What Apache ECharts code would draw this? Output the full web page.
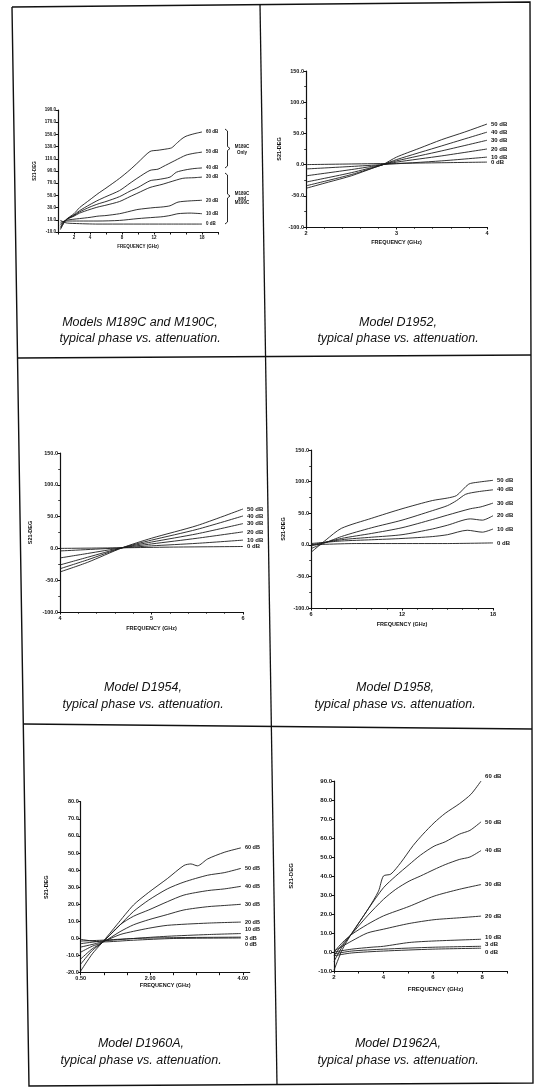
<!DOCTYPE html>
<html><head><meta charset="utf-8">
<script src="https://cdn.jsdelivr.net/npm/echarts@6/dist/echarts.min.js"></script>
<style>html,body{margin:0;padding:0;background:#fff}#c{width:536px;height:1088px}</style>
</head><body><div id="c"></div>
<script>
// ---------- DATA ----------
const curveNames6 = ['50 dB','40 dB','30 dB','20 dB','10 dB','0 dB'];
const curveNames7 = ['60 dB','50 dB','40 dB','30 dB','20 dB','10 dB','0 dB'];
const curveNames8 = ['60 dB','50 dB','40 dB','30 dB','20 dB','10 dB','3 dB','0 dB'];

// Models M189C and M190C (x: GHz, y: S21 phase deg)
const m189_xLabels = [2,4,8,12,18];
const m189_yLabels = [-10,10,30,50,70,90,110,130,150,170,190];
const m189_60 = [[0.3,-6],[1,10],[2,20],[2.7,30],[4,43],[5,53],[6,62],[7.7,78],[9,92],[10,104],[11.5,122],[12.5,124],[13.5,126],[14.2,128],[14.8,135],[15.5,143],[16,147],[17,151],[18,154]];
const m189_50 = [[0.3,-4],[1,10],[2,18],[2.7,25],[4,35],[5,42],[6,48],[7.7,58],[9,70],[10,79],[11.5,91],[12.5,93],[13.1,97],[14.6,107],[16,116],[17,119],[18,121]];
const m189_40 = [[0.3,-2],[1,10],[2,17],[2.7,23],[4,31],[5,36],[6,40],[7.7,48],[9,57],[10,63],[11.5,74],[12.5,76],[14,80],[14.8,88],[16,92],[17,94],[18,95]];
const m189_30 = [[0.3,1],[1,10],[2,16],[2.7,21],[4,27],[5,31],[6,34],[7.7,40],[9,48],[10,54],[11.5,63],[13,68],[14,72],[15.6,78],[17,79],[18,80]];
const m189_20 = [[0.3,3],[1,9],[2,11],[2.7,12],[4,14],[5,16],[6,17],[7.7,20],[9,24],[10,27],[12,30],[13,31],[14,33],[15,39],[16.5,41],[18,42]];
const m189_10 = [[0.3,6],[1,8],[2.7,8],[5,8],[7.7,9],[10,12],[12,14],[13,15],[14,17],[15,20],[16.5,21],[18,20]];
const m189_0  = [[0.3,9],[1,5],[2,4],[5,3],[10,3],[14,3],[18,3]];

// Model D1952
const d1952_50 = [[2,-38],[2.25,-28],[2.5,-18],[2.75,-5],[2.85,0],[3,12],[3.25,26],[3.5,40],[3.75,52],[4,65]];
const d1952_40 = [[2,-34],[2.5,-16],[2.85,0],[3,8],[3.5,30],[4,52]];
const d1952_30 = [[2,-28],[2.5,-13],[2.85,0],[3,6],[3.5,22],[4,39]];
const d1952_20 = [[2,-18],[2.5,-8],[2.85,0],[3,4],[3.5,14],[4,25]];
const d1952_10 = [[2,-7],[2.5,-3],[2.85,0],[3.5,6],[4,12]];
const d1952_0  = [[2,0],[2.5,1],[3,2],[3.5,3],[4,4]];

// Model D1954
const d1954_50 = [[4,-37],[4.3,-22],[4.68,1],[5,16],[5.5,36],[6,62]];
const d1954_40 = [[4,-32],[4.3,-18],[4.68,1],[5,13],[5.5,30],[6,51]];
const d1954_30 = [[4,-26],[4.3,-14],[4.68,1],[5,10],[5.5,23],[6,39]];
const d1954_20 = [[4,-15],[4.3,-8],[4.68,1],[5,7],[5.5,16],[6,26]];
const d1954_10 = [[4,-4],[4.68,1],[5,4],[5.5,8],[6,13]];
const d1954_0  = [[4,0],[4.7,1],[5.2,2],[6,3]];

// Model D1958
const d1958_50 = [[6,-12],[7,8],[8,26],[10,42],[12,57],[14,70],[15,74],[15.6,78],[16.4,96],[17,99],[18,102]];
const d1958_40 = [[6,-6],[8,13],[10,27],[12,39],[14,54],[15,62],[15.6,70],[16.2,80],[17,84],[18,87]];
const d1958_30 = [[6,-2],[8,10],[10,18],[12,27],[14,40],[15,47],[16.5,57],[17.2,60],[18,66]];
const d1958_20 = [[6,0],[8,8],[10,12],[12,16],[14,25],[15,31],[16.5,41],[17.3,39],[18,46]];
const d1958_10 = [[6,2],[8,6],[10,8],[12,10],[14,13],[15,16],[16.3,23],[17.3,20],[18,25]];
const d1958_0  = [[6,0],[9,2],[12,2],[15,2],[18,3]];

// Model D1960A
const d1960_xLabels = [0.5,2,4];
const d1960_xTicks = [0.5,1,1.5,2,2.5,3,3.5,4];
const d1960_60 = [[0.5,-19],[0.75,-9],[0.96,-2.5],[1.28,8],[1.64,19.6],[1.97,27],[2.37,35],[2.73,42.7],[2.88,43.6],[3.02,42.5],[3.24,46.5],[3.6,50.4],[3.96,53]];
const d1960_50 = [[0.5,-15],[0.75,-7],[0.96,-2.5],[1.28,6],[1.64,15.8],[1.97,22.5],[2.37,29],[2.73,33],[3.24,37],[3.6,38.5],[3.96,41]];
const d1960_40 = [[0.5,-12],[0.75,-6],[0.96,-2.5],[1.35,8],[1.64,13],[1.97,16.7],[2.37,21.5],[2.73,25.4],[3.24,28],[3.6,29],[3.96,30.5]];
const d1960_30 = [[0.5,-8],[0.75,-4.5],[0.96,-2.5],[1.35,4],[1.64,8],[1.97,11],[2.37,14],[2.73,16.7],[3.24,18.6],[3.6,19.3],[3.96,20]];
const d1960_20 = [[0.5,-5],[0.96,-2],[1.35,2.3],[1.64,4.2],[1.97,6],[2.37,7.7],[3.24,9],[3.96,9.6]];
const d1960_10 = [[0.5,-3],[0.96,-1.5],[1.64,0],[2.37,1.3],[3.24,2.3],[3.96,2.9]];
const d1960_3  = [[0.5,-1.5],[0.96,-1],[1.64,0],[2.5,0.5],[3.96,0.8]];
const d1960_0  = [[0.5,-0.5],[0.96,-2],[1.64,-1],[2.5,0],[3.96,0.3]];

// Model D1962A
const d1962_xLabels = [2,4,6,8];
const d1962_60 = [[2,-9.6],[2.34,1.4],[2.72,9.8],[3.35,22],[3.8,32],[4,40],[4.3,41],[4.7,47],[5.2,56],[5.6,62],[6.05,68],[6.5,73],[7.07,78],[7.54,83],[7.95,90]];
const d1962_50 = [[2,-5],[2.34,3],[2.72,9.8],[3.35,22],[4,33.8],[4.5,40],[5.04,46],[5.5,51],[6.05,55.7],[6.5,58],[7.07,62],[7.5,64],[7.95,68.5]];
const d1962_40 = [[2,-2],[2.34,4],[2.72,9.5],[3.35,19],[4,27.7],[4.5,33],[5.04,37.3],[5.5,40],[6.05,43.4],[6.5,46],[7.07,48.7],[7.5,50],[7.95,53.4]];
const d1962_30 = [[2,0],[2.34,5],[2.72,9.3],[3.35,14.5],[4,19],[5.04,24],[6.05,29.4],[7.07,33],[7.95,35.5]];
const d1962_20 = [[2,0.5],[2.72,5.8],[3.35,10],[4,12],[5.04,15],[6.05,17],[7.07,18],[7.95,18.9]];
const d1962_10 = [[2,0],[2.72,1.5],[3.5,2.5],[4,3],[5.04,5],[6.05,5.8],[7.95,6.7]];
const d1962_3  = [[2,-1],[2.72,0.5],[4,1.5],[6,2.5],[7.95,3]];
const d1962_0  = [[2,-2],[2.72,-0.5],[4,0.5],[6,1.5],[7.95,2]];

const captions = [
  ['Models M189C and M190C,', 'typical phase vs. attenuation.'],
  ['Model D1952,', 'typical phase vs. attenuation.'],
  ['Model D1954,', 'typical phase vs. attenuation.'],
  ['Model D1958,', 'typical phase vs. attenuation.'],
  ['Model D1960A,', 'typical phase vs. attenuation.'],
  ['Model D1962A,', 'typical phase vs. attenuation.']
];
const xTitle = 'FREQUENCY (GHz)';
const yTitle = 'S21-DEG';

// ---------- LAYOUT / STYLE ----------
const FONT = '"Liberation Sans", Arial, sans-serif';
const INK = '#111';
const panels = [
  { grid:{left:58,top:110,width:160,height:122},
    x:{min:0,max:20,interval:2,labels:m189_xLabels,fmt:v=>String(v)},
    y:{min:-10,max:190,labels:m189_yLabels,ticks:m189_yLabels},
    fs:4.5, yGap:21, xGap:12, lfs:4.5,
    names:curveNames7, data:[m189_60,m189_50,m189_40,m189_30,m189_20,m189_10,m189_0], offs:{} },
  { grid:{left:306,top:71,width:181,height:156},
    x:{min:2,max:4,interval:1,minor:5,fmt:v=>String(v)},
    y:{min:-100,max:150,interval:50,minor:2},
    fs:5.5, yGap:24, xGap:12, lfs:6,
    names:curveNames6, data:[d1952_50,d1952_40,d1952_30,d1952_20,d1952_10,d1952_0], offs:{} },
  { grid:{left:60,top:453,width:183,height:159},
    x:{min:4,max:6,interval:1,minor:5,fmt:v=>String(v)},
    y:{min:-100,max:150,interval:50,minor:2},
    fs:5.5, yGap:27, xGap:13, lfs:6,
    names:curveNames6, data:[d1954_50,d1954_40,d1954_30,d1954_20,d1954_10,d1954_0], offs:{} },
  { grid:{left:311,top:450,width:182,height:158},
    x:{min:6,max:18,interval:6,minor:6,fmt:v=>String(v)},
    y:{min:-100,max:150,interval:50,minor:2},
    fs:5.5, yGap:25, xGap:13, lfs:6,
    names:curveNames6, data:[d1958_50,d1958_40,d1958_30,d1958_20,d1958_10,d1958_0], offs:{} },
  { grid:{left:80.7,top:801.7,width:169,height:171},
    x:{min:0.5,max:4.15,labels:d1960_xLabels,ticks:d1960_xTicks,fmt:v=>v.toFixed(2)},
    y:{min:-20,max:80,interval:10},
    fs:5.5, yGap:31, xGap:10, lfs:5.5,
    names:curveNames8, data:[d1960_60,d1960_50,d1960_40,d1960_30,d1960_20,d1960_10,d1960_3,d1960_0],
    offs:{'10 dB':[0,-4],'3 dB':[0,1],'0 dB':[0,6]} },
  { grid:{left:334,top:781,width:173,height:190},
    x:{min:2,max:9,interval:1,labels:d1962_xLabels,fmt:v=>String(v)},
    y:{min:-10,max:90,interval:10},
    fs:6, yGap:40, xGap:15, lfs:6, xPadLeft:30,
    names:curveNames8, data:[d1962_60,d1962_50,d1962_40,d1962_30,d1962_20,d1962_10,d1962_3,d1962_0],
    offs:{'60 dB':[0,-5],'10 dB':[0,-2],'3 dB':[0,-2],'0 dB':[0,4]} }
];

const grids=[], xAxes=[], yAxes=[], series=[];
panels.forEach((p,i)=>{
  grids.push(Object.assign({containLabel:false}, p.grid));
  const xa = {
    type:'value', gridIndex:i, min:p.x.min, max:p.x.max,
    name:xTitle, nameLocation:'middle', nameGap:p.xGap,
    nameTextStyle:{fontFamily:FONT,fontSize:p.fs,fontWeight:'bold',color:INK,padding:[0,0,0,p.xPadLeft||0]},
    axisLine:{onZero:false,lineStyle:{color:INK,width:1.2}},
    axisTick:{show:true,length:2.5,inside:false,lineStyle:{color:INK,width:1}},
    axisLabel:{fontFamily:FONT,fontSize:p.fs,fontWeight:'bold',color:INK,margin:3,formatter:p.x.fmt},
    splitLine:{show:false}
  };
  if (p.x.interval) xa.interval = p.x.interval;
  if (p.x.labels) xa.axisLabel.customValues = p.x.labels;
  if (p.x.ticks) xa.axisTick.customValues = p.x.ticks;
  if (p.x.minor) xa.minorTick = {show:true,splitNumber:p.x.minor,length:1.8,lineStyle:{color:INK,width:0.8}};
  xAxes.push(xa);
  const ya = {
    type:'value', gridIndex:i, min:p.y.min, max:p.y.max,
    name:yTitle, nameLocation:'middle', nameRotate:90, nameGap:p.yGap,
    nameTextStyle:{fontFamily:FONT,fontSize:p.fs,fontWeight:'bold',color:INK},
    axisLine:{show:true,onZero:false,lineStyle:{color:INK,width:1.2}},
    axisTick:{show:true,length:2.5,lineStyle:{color:INK,width:1}},
    axisLabel:{fontFamily:FONT,fontSize:p.fs,fontWeight:'bold',color:INK,margin:2,formatter:v=>v.toFixed(1)},
    splitLine:{show:false}
  };
  if (p.y.interval) ya.interval = p.y.interval;
  if (p.y.labels) ya.axisLabel.customValues = p.y.labels;
  if (p.y.ticks) ya.axisTick.customValues = p.y.ticks;
  if (p.y.minor) ya.minorTick = {show:true,splitNumber:p.y.minor,length:1.8,lineStyle:{color:INK,width:0.8}};
  yAxes.push(ya);
  p.data.forEach((d,k)=>{
    const nm = p.names[k];
    series.push({
      type:'line', name:nm, xAxisIndex:i, yAxisIndex:i, data:d,
      showSymbol:false, symbol:'none', smooth:0.25, animation:false, silent:true,
      lineStyle:{color:'#1c1c1c',width:0.9},
      endLabel:{show:true,formatter:'{a}',fontFamily:FONT,fontSize:p.lfs,fontWeight:'bold',color:INK,
        distance:4,offset:p.offs[nm]||[0,0]}
    });
  });
});

// frame + captions
const graphic = [];
function line(pts,w){ graphic.push({type:'polyline',shape:{points:pts},style:{stroke:INK,lineWidth:w||1.3,fill:null},silent:true}); }
line([[12,7],[530,2],[533,1083],[29,1086],[12,7]],1.4);
line([[260,4],[277,1085]],1.3);
line([[18,358],[531,355]],1.3);
line([[24,724],[532,729]],1.3);
// braces on first panel
function brace(x0,y0,ym,y1){ line([[x0,y0],[x0+2.5,y0+2],[x0+2.5,ym-2],[x0+5,ym],[x0+2.5,ym+2],[x0+2.5,y1-2],[x0,y1]],0.9); }
brace(225,129,148.5,168);
brace(225,173,196,224);
function txt(s,x,y,font,align){ graphic.push({type:'text',silent:true,style:{text:s,x:x,y:y,font:font,fill:INK,align:align||'center',verticalAlign:'middle'}}); }
const bf = 'bold 4.5px ' + FONT;
txt('M189C',242,147,bf); txt('Only',242,152.5,bf);
txt('M189C',242,194,bf); txt('and',242,198.5,bf); txt('M190C',242,203,bf);
const capPos = [[140,323,339],[398,323,339],[143,688,705],[395,688,705],[141,1044,1061],[398,1044,1061]];
const cf = 'italic 12.5px ' + FONT;
captions.forEach((c,i)=>{ txt(c[0],capPos[i][0],capPos[i][1],cf); txt(c[1],capPos[i][0],capPos[i][2],cf); });

const chart = echarts.init(document.getElementById('c'), null, {renderer:'canvas'});
chart.setOption({
  backgroundColor:'#fff', animation:false,
  grid:grids, xAxis:xAxes, yAxis:yAxes, series:series, graphic:graphic
});
</script></body></html>
